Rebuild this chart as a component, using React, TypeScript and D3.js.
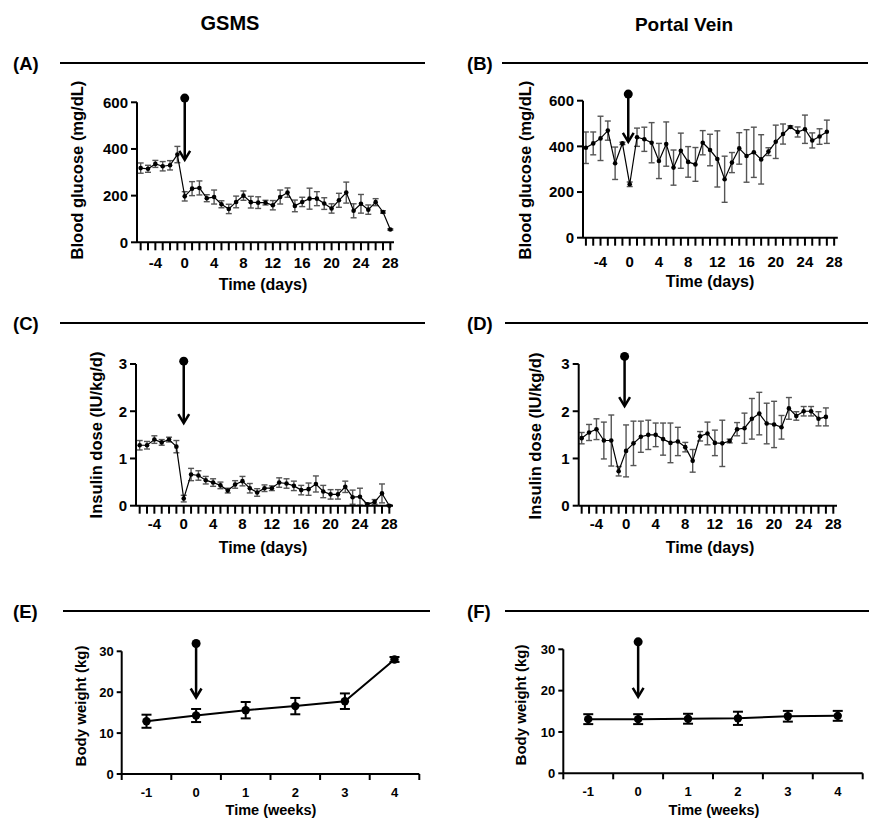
import React from "react";
import * as d3 from "d3";

// ---------- data ----------
const days = [-6, -5, -4, -3, -2, -1, 0, 1, 2, 3, 4, 5, 6, 7, 8, 9, 10, 11, 12, 13, 14, 15, 16, 17, 18, 19, 20, 21, 22, 23, 24, 25, 26, 27, 28];
const dayTickLabels = [-4, 0, 4, 8, 12, 16, 20, 24, 28];
const glucoseTicks = [0, 200, 400, 600];
const insulinTicks = [0, 1, 2, 3];
const weightTicks = [0, 10, 20, 30];
const weeks = ["-1", "0", "1", "2", "3", "4"];

// GSMS blood glucose, days -6..28
const gsmsGlucose = [318, 315, 336, 326, 330, 376, 197, 230, 233, 189, 194, 163, 143, 173, 200, 172, 170, 170, 159, 194, 213, 156, 173, 187, 187, 166, 145, 180, 213, 135, 165, 140, 172, 130, 55];
const gsmsGlucoseErr = [22, 15, 15, 20, 20, 35, 20, 30, 30, 15, 30, 15, 20, 25, 20, 25, 25, 10, 20, 30, 20, 25, 20, 45, 30, 25, 20, 30, 45, 30, 40, 20, 15, 5, 3];

// Portal vein blood glucose, days -6..27
const pvGlucose = [394, 413, 435, 469, 326, 413, 234, 440, 431, 416, 336, 410, 307, 381, 332, 321, 416, 384, 345, 256, 329, 391, 358, 374, 343, 377, 420, 454, 485, 463, 475, 426, 443, 464];
const pvGlucoseErr = [69, 50, 97, 42, 71, 5, 10, 40, 53, 88, 77, 97, 77, 77, 67, 74, 53, 69, 123, 101, 44, 69, 115, 110, 108, 17, 73, 44, 5, 22, 62, 33, 34, 51];

// GSMS insulin dose, days -6..28
const gsmsInsulin = [1.28, 1.28, 1.4, 1.34, 1.4, 1.25, 0.15, 0.66, 0.64, 0.54, 0.49, 0.43, 0.32, 0.45, 0.52, 0.37, 0.28, 0.37, 0.37, 0.49, 0.47, 0.42, 0.33, 0.35, 0.46, 0.3, 0.24, 0.24, 0.4, 0.18, 0.19, 0.03, 0.08, 0.26, 0.0];
const gsmsInsulinErr = [0.1, 0.08, 0.08, 0.06, 0.05, 0.13, 0.07, 0.13, 0.1, 0.08, 0.08, 0.07, 0.05, 0.08, 0.1, 0.1, 0.08, 0.07, 0.05, 0.1, 0.1, 0.1, 0.1, 0.13, 0.17, 0.13, 0.1, 0.1, 0.12, 0.15, 0.18, 0.03, 0.05, 0.2, 0.02];

// Portal vein insulin dose, days -6..27
const pvInsulin = [1.43, 1.55, 1.62, 1.38, 1.38, 0.73, 1.16, 1.32, 1.46, 1.5, 1.5, 1.41, 1.33, 1.36, 1.24, 0.95, 1.47, 1.53, 1.33, 1.32, 1.37, 1.62, 1.64, 1.84, 1.95, 1.74, 1.72, 1.66, 2.06, 1.9, 2.0, 2.0, 1.84, 1.88];
const pvInsulinErr = [0.12, 0.17, 0.22, 0.39, 0.54, 0.1, 0.55, 0.47, 0.33, 0.31, 0.25, 0.34, 0.42, 0.3, 0.1, 0.24, 0.1, 0.24, 0.27, 0.49, 0.04, 0.14, 0.32, 0.43, 0.45, 0.43, 0.49, 0.25, 0.23, 0.09, 0.1, 0.1, 0.15, 0.19];

// Body weight, weeks -1..4
const gsmsWeight = [12.9, 14.3, 15.6, 16.6, 17.8, 28.0];
const gsmsWeightErr = [1.6, 1.6, 2.0, 2.0, 1.9, 0.6];
const pvWeight = [13.1, 13.1, 13.2, 13.3, 13.8, 13.9];
const pvWeightErr = [1.2, 1.2, 1.2, 1.6, 1.3, 1.2];

const FONT = "'Liberation Sans', Arial, Helvetica, sans-serif";

function Arrow({ x, yFrom, yTo, r, head }: { x: number; yFrom: number; yTo: number; r: number; head: number }) {
  return (
    <g>
      <circle cx={x} cy={yFrom} r={r} fill="#000" />
      <line x1={x} x2={x} y1={yFrom} y2={yTo - 1} stroke="#000" strokeWidth={2.5} />
      <polyline
        points={`${x - head * 0.6},${yTo - head} ${x},${yTo} ${x + head * 0.6},${yTo - head}`}
        fill="none"
        stroke="#000"
        strokeWidth={2.5}
      />
    </g>
  );
}

function DayPanel(props: any) {
  const {
    axisX, axisEnd, domainMin, y0, yTop, yMax, values, errs, yTicks, yLabel, yLabelX, yLabelY,
    xTitleX, xTitleY, tickLabelY, arrowDay, arrowFrom, arrowTo,
  } = props;
  const x = d3.scaleLinear().domain([domainMin, 28.5]).range([axisX, axisEnd]);
  const y = d3.scaleLinear().domain([0, yMax]).range([y0, yTop]);
  const pts = values.map((v: number, i: number) => [days[i], v] as [number, number]);
  const line = d3.line<[number, number]>().x((d) => x(d[0])).y((d) => y(d[1]));
  return (
    <g fontFamily={FONT} fontWeight="bold">
      {pts.map((d: [number, number], i: number) => {
        const e = errs[i];
        const cx = x(d[0]);
        const yt = y(d[1] + e);
        const yb = y(Math.max(0, d[1] - e));
        return (
          <g key={"e" + i} stroke="#555" strokeWidth={1.4}>
            <line x1={cx} x2={cx} y1={yt} y2={yb} />
            <line x1={cx - 3} x2={cx + 3} y1={yt} y2={yt} />
            <line x1={cx - 3} x2={cx + 3} y1={yb} y2={yb} />
          </g>
        );
      })}
      <path d={line(pts) || ""} fill="none" stroke="#000" strokeWidth={1.2} />
      {pts.map((d: [number, number], i: number) => (
        <circle key={"p" + i} cx={x(d[0])} cy={y(d[1])} r={2.3} fill="#000" />
      ))}
      <line x1={axisX} x2={axisX} y1={y0} y2={y(yMax)} stroke="#000" strokeWidth={2} />
      <line x1={axisX} x2={axisEnd} y1={y0} y2={y0} stroke="#000" strokeWidth={2} />
      {yTicks.map((t: number) => (
        <g key={"yt" + t}>
          <line x1={axisX - 6} x2={axisX} y1={y(t)} y2={y(t)} stroke="#000" strokeWidth={2} />
          <text x={axisX - 9} y={y(t)} dy="0.36em" textAnchor="end" fontSize={15}>
            {t}
          </text>
        </g>
      ))}
      {days.map((t) => (
        <line key={"xt" + t} x1={x(t)} x2={x(t)} y1={y0} y2={y0 + 8} stroke="#000" strokeWidth={2} />
      ))}
      {dayTickLabels.map((t) => (
        <text key={"xl" + t} x={x(t)} y={tickLabelY} textAnchor="middle" fontSize={15}>
          {t}
        </text>
      ))}
      <text x={xTitleX} y={xTitleY} textAnchor="middle" fontSize={16}>
        Time (days)
      </text>
      <text
        transform={`translate(${yLabelX},${yLabelY}) rotate(-90)`}
        textAnchor="middle"
        dy="0.36em"
        fontSize={16.5}
      >
        {yLabel}
      </text>
      <Arrow x={x(arrowDay)} yFrom={y(arrowFrom)} yTo={y(arrowTo)} r={4.5} head={9} />
    </g>
  );
}

function WeekPanel(props: any) {
  const { axisX, axisEnd, y0, yTop, values, errs, yLabelX, yLabelY, xTitleX, xTitleY, tickLabelY, arrowFrom, arrowTo } = props;
  const x = d3.scaleBand<string>().domain(weeks).range([axisX, axisEnd]).padding(0);
  const y = d3.scaleLinear().domain([0, 30]).range([y0, yTop]);
  const cx = (w: string) => (x(w) as number) + x.bandwidth() / 2;
  const pts = values.map((v: number, i: number) => [weeks[i], v] as [string, number]);
  const line = d3.line<[string, number]>().x((d) => cx(d[0])).y((d) => y(d[1]));
  const edges = weeks.map((w) => x(w) as number).concat([axisEnd]);
  return (
    <g fontFamily={FONT} fontWeight="bold">
      {pts.map((d: [string, number], i: number) => {
        const e = errs[i];
        const px = cx(d[0]);
        const yt = y(d[1] + e);
        const yb = y(d[1] - e);
        return (
          <g key={"e" + i} stroke="#000" strokeWidth={2}>
            <line x1={px} x2={px} y1={yt} y2={yb} />
            <line x1={px - 5} x2={px + 5} y1={yt} y2={yt} />
            <line x1={px - 5} x2={px + 5} y1={yb} y2={yb} />
          </g>
        );
      })}
      <path d={line(pts) || ""} fill="none" stroke="#000" strokeWidth={2} />
      {pts.map((d: [string, number], i: number) => (
        <circle key={"p" + i} cx={cx(d[0])} cy={y(d[1])} r={4.2} fill="#000" />
      ))}
      <line x1={axisX} x2={axisX} y1={y0} y2={y(30)} stroke="#000" strokeWidth={2} />
      <line x1={axisX} x2={axisEnd} y1={y0} y2={y0} stroke="#000" strokeWidth={2} />
      {weightTicks.map((t) => (
        <g key={"yt" + t}>
          <line x1={axisX - 5} x2={axisX} y1={y(t)} y2={y(t)} stroke="#000" strokeWidth={2} />
          <text x={axisX - 8} y={y(t)} dy="0.36em" textAnchor="end" fontSize={13}>
            {t}
          </text>
        </g>
      ))}
      {edges.map((ex, i) => (
        <line key={"xt" + i} x1={ex} x2={ex} y1={y0} y2={y0 + 6} stroke="#000" strokeWidth={2} />
      ))}
      {weeks.map((w) => (
        <text key={"xl" + w} x={cx(w)} y={tickLabelY} textAnchor="middle" fontSize={13}>
          {w}
        </text>
      ))}
      <text x={xTitleX} y={xTitleY} textAnchor="middle" fontSize={14.5}>
        Time (weeks)
      </text>
      <text transform={`translate(${yLabelX},${yLabelY}) rotate(-90)`} textAnchor="middle" dy="0.36em" fontSize={15}>
        Body weight (kg)
      </text>
      <Arrow x={cx("0")} yFrom={y(arrowFrom)} yTo={y(arrowTo)} r={4.5} head={9} />
    </g>
  );
}

function Header({ label, x, y, lx1, lx2 }: { label: string; x: number; y: number; lx1: number; lx2: number }) {
  return (
    <g>
      <text x={x} y={y + 7} fontFamily={FONT} fontWeight="bold" fontSize={18.5}>
        {label}
      </text>
      <line x1={lx1} x2={lx2} y1={y} y2={y} stroke="#000" strokeWidth={2} />
    </g>
  );
}

export default function App() {
  return (
    <svg
      width={894}
      height={819}
      viewBox="0 0 894 819"
      style={{ position: "absolute", left: 0, top: 0, background: "#fff" }}
    >
      <rect width={894} height={819} fill="#fff" />
      <text x={230} y={30} textAnchor="middle" fontFamily={FONT} fontWeight="bold" fontSize={20}>
        GSMS
      </text>
      <text x={684} y={31} textAnchor="middle" fontFamily={FONT} fontWeight="bold" fontSize={19}>
        Portal Vein
      </text>

      <Header label="(A)" x={13} y={63} lx1={60} lx2={425} />
      <Header label="(B)" x={467} y={63} lx1={502} lx2={868} />
      <Header label="(C)" x={13} y={323} lx1={60} lx2={425} />
      <Header label="(D)" x={467} y={323} lx1={505} lx2={868} />
      <Header label="(E)" x={13} y={611} lx1={63} lx2={430} />
      <Header label="(F)" x={467} y={611} lx1={505} lx2={869} />

      <DayPanel
        axisX={137} axisEnd={394} domainMin={-6.5} y0={242.3} yTop={102.3} yMax={600}
        values={gsmsGlucose} errs={gsmsGlucoseErr} yTicks={glucoseTicks}
        yLabel="Blood glucose (mg/dL)" yLabelX={77} yLabelY={170}
        xTitleX={263} xTitleY={290} tickLabelY={267.5}
        arrowDay={0} arrowFrom={618} arrowTo={353}
      />
      <DayPanel
        axisX={583} axisEnd={837.8} domainMin={-6.4} y0={237.7} yTop={100.7} yMax={600}
        values={pvGlucose} errs={pvGlucoseErr} yTicks={glucoseTicks}
        yLabel="Blood glucose (mg/dL)" yLabelX={525.5} yLabelY={170}
        xTitleX={710} xTitleY={286.5} tickLabelY={266.5}
        arrowDay={-0.2} arrowFrom={629} arrowTo={420}
      />
      <DayPanel
        axisX={136} axisEnd={393} domainMin={-6.5} y0={505.7} yTop={364} yMax={3}
        values={gsmsInsulin} errs={gsmsInsulinErr} yTicks={insulinTicks}
        yLabel="Insulin dose (IU/kg/d)" yLabelX={96} yLabelY={435}
        xTitleX={263} xTitleY={553} tickLabelY={528.5}
        arrowDay={0} arrowFrom={3.06} arrowTo={1.75}
      />
      <DayPanel
        axisX={578.7} axisEnd={837} domainMin={-6.4} y0={505.7} yTop={364} yMax={3}
        values={pvInsulin} errs={pvInsulinErr} yTicks={insulinTicks}
        yLabel="Insulin dose (IU/kg/d)" yLabelX={535.5} yLabelY={436}
        xTitleX={710} xTitleY={553} tickLabelY={528.5}
        arrowDay={-0.2} arrowFrom={3.16} arrowTo={2.11}
      />
      <WeekPanel
        axisX={121.7} axisEnd={419.3} y0={774} yTop={651.3}
        values={gsmsWeight} errs={gsmsWeightErr}
        yLabelX={81} yLabelY={706} xTitleX={271} xTitleY={815} tickLabelY={796.5}
        arrowFrom={31.9} arrowTo={18.7}
      />
      <WeekPanel
        axisX={563.3} axisEnd={862.7} y0={773.3} yTop={649.3}
        values={pvWeight} errs={pvWeightErr}
        yLabelX={521} yLabelY={705} xTitleX={714} xTitleY={815} tickLabelY={795.5}
        arrowFrom={31.8} arrowTo={18.5}
      />
    </svg>
  );
}
